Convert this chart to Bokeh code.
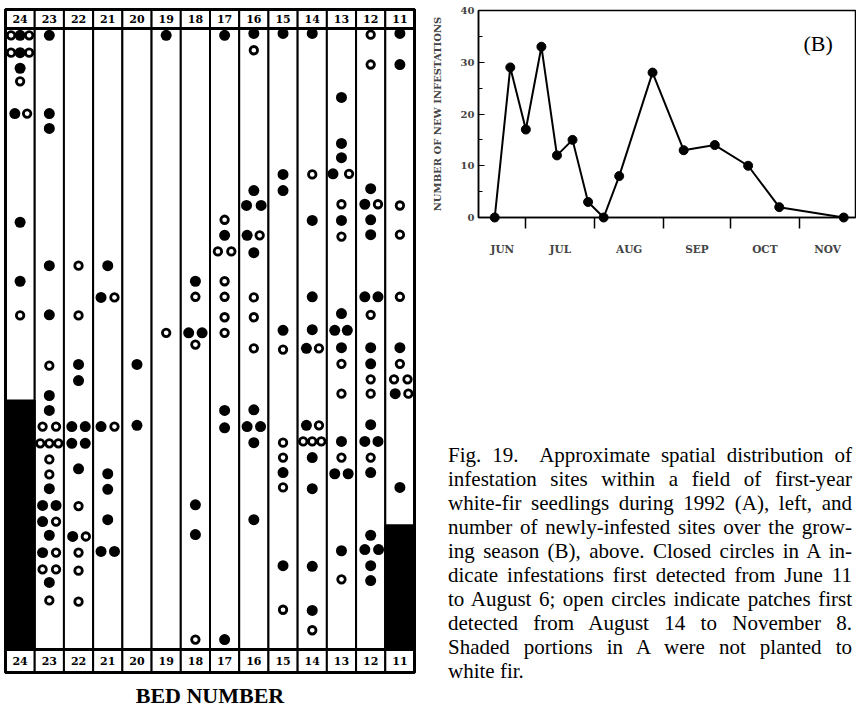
from bokeh.plotting import figure
from bokeh.models import Range1d, FixedTicker, Label, Div
from bokeh.layouts import row, column
from bokeh.embed import file_html
from bokeh.resources import INLINE
from bokeh.core.properties import value
import pandas as pd

# ---------------- Panel A data ----------------
beds = [24, 23, 22, 21, 20, 19, 18, 17, 16, 15, 14, 13, 12, 11]

# unplanted (shaded) part of a bed: starts at this position (% of bed length from top)
shaded_bed = [24, 11]
shaded_from = [59.9, 80.0]

# closed circles: infestations first detected June 11 - August 6
# position = % of bed length from the top; lane = sideways offset (fraction of bed width)
closed_bed = ([24] * 6 + [23] * 14 + [22] * 8 + [21] * 8 + [20] * 2 + [19] * 1 + [18] * 5
              + [17] * 5 + [16] * 11 + [15] * 6 + [14] * 10 + [13] * 13 + [12] * 17 + [11] * 5)
closed_pos = [
    1.1, 3.9, 6.4, 13.7, 31.2, 40.7,
    1.1, 13.7, 16.1, 38.2, 46.1, 59.1, 61.5, 74.1, 76.8, 76.8, 79.4, 81.6, 84.4, 89.2,
    54.1, 56.7, 64.1, 64.1, 66.8, 66.8, 70.9, 81.8,
    38.2, 43.3, 64.1, 71.7, 74.2, 79.1, 84.2, 84.2,
    54.1, 63.9,
    1.1,
    40.7, 49.0, 49.0, 76.7, 81.5,
    1.1, 33.3, 61.5, 64.3, 98.4,
    0.8, 26.1, 28.5, 28.5, 33.3, 36.1, 61.4, 64.1, 64.1, 66.7, 79.1,
    0.8, 23.5, 26.1, 48.6, 71.5, 86.5,
    0.8, 30.9, 43.2, 48.5, 51.5, 63.9, 69.1, 74.1, 86.6, 93.7,
    11.1, 18.5, 20.8, 23.4, 30.9, 45.9, 48.6, 48.6, 51.4, 66.5, 71.7, 71.7, 84.1,
    25.8, 28.3, 30.8, 33.2, 43.2, 43.2, 51.4, 54.0, 63.8, 66.5, 66.5, 71.5, 81.6, 83.9, 83.9, 86.5, 88.9,
    0.8, 5.8, 51.4, 58.8, 73.9,
]
closed_lane = [
    0, 0, 0, -0.18, 0, 0,
    0, 0, 0, 0, 0, 0, 0, 0, -0.23, 0.23, -0.23, 0, -0.23, 0,
    0, 0, -0.23, 0.23, -0.23, 0.23, 0, -0.2,
    0, -0.23, -0.23, 0, 0, 0, -0.23, 0.23,
    0, 0,
    0,
    0, -0.23, 0.23, 0, 0,
    0, 0, 0, 0, 0,
    0, 0, -0.25, 0.25, -0.23, 0, 0, -0.23, 0.23, 0, 0,
    0, 0, 0, 0, 0, 0,
    0, 0, 0, 0, -0.2, -0.2, 0, 0, 0, 0,
    0, 0, 0, -0.29, 0, 0, -0.23, 0.2, 0, 0, -0.23, 0.23, 0,
    0, -0.2, 0, 0, -0.2, 0.25, 0, 0, 0, -0.2, 0.25, 0, 0, -0.2, 0.27, 0, 0,
    0, 0, 0, -0.16, 0,
]

# open circles: patches first detected August 14 - November 8
open_bed = ([24] * 7 + [23] * 13 + [22] * 7 + [21] * 2 + [19] * 1 + [18] * 3 + [17] * 7
            + [16] * 5 + [15] * 5 + [14] * 7 + [13] * 7 + [12] * 7 + [11] * 7)
open_pos = [
    1.1, 1.1, 3.9, 3.9, 8.5, 13.7, 46.2,
    54.3, 64.1, 64.1, 66.8, 66.8, 66.8, 69.4, 71.8, 79.4, 84.4, 87.1, 87.1, 92.1,
    38.2, 46.2, 76.9, 81.8, 84.4, 87.3, 92.3,
    43.3, 64.1,
    49.0,
    43.2, 50.9, 98.4,
    30.8, 35.9, 35.9, 40.7, 43.2, 46.5, 49.0,
    3.5, 33.3, 43.3, 46.5, 51.5,
    51.7, 66.7, 69.1, 73.9, 93.6,
    23.5, 51.5, 63.9, 66.5, 66.5, 66.5, 96.9,
    23.4, 28.3, 33.5, 54.0, 58.8, 69.1, 88.7,
    1.0, 5.8, 28.3, 46.1, 56.5, 58.8, 69.1,
    28.5, 33.2, 43.2, 54.0, 56.5, 56.5, 58.8,
]
open_lane = [
    -0.31, 0.31, -0.31, 0.31, 0, 0.24, 0,
    0, -0.23, 0.23, -0.31, 0, 0.31, 0, 0, 0.23, 0.23, -0.23, 0.23, 0,
    0, 0, 0, 0.25, 0, 0, 0,
    0.23, 0.23,
    0,
    0, 0, 0,
    0, -0.23, 0.23, 0, 0, 0, 0,
    0, 0.2, 0, 0, 0,
    0, 0, 0, 0, 0,
    0, 0.23, 0.23, -0.31, 0, 0.31, 0,
    0.26, 0, 0, 0, 0, 0, 0,
    0, 0, 0.25, 0, 0, 0, 0,
    0, 0, 0, 0, -0.2, 0.26, 0.29,
]

# ---------------- Panel B data ----------------
survey_dates = ["Jun 17", "Jun 24", "Jul 1", "Jul 8", "Jul 15", "Jul 22", "Jul 29", "Aug 5",
                "Aug 12", "Aug 27", "Sep 10", "Sep 24", "Oct 9", "Oct 23", "Nov 21"]
new_infestations = [0, 29, 17, 33, 12, 15, 3, 0, 8, 28, 13, 14, 10, 2, 0]
month_names = ["JUN", "JUL", "AUG", "SEP", "OCT", "NOV"]
month_starts = ["Jul 1", "Aug 1", "Sep 1", "Oct 1", "Nov 1"]
y_ticks = [0, 10, 20, 30, 40]
y_minor = [5, 15, 25, 35]

caption_lines = [
    "Fig. 19.&nbsp; Approximate spatial distribution of",
    "infestation sites within a field of first-year",
    "white-fir seedlings during 1992 (A), left, and",
    "number of newly-infested sites over the grow-",
    "ing season (B), above. Closed circles in A in-",
    "dicate infestations first detected from June 11",
    "to August 6; open circles indicate patches first",
    "detected from August 14 to November 8.",
    "Shaded portions in A were not planted to",
    "white fir.",
]

# ---------------- Panel A ----------------
WA, H = 428, 708
ppx = 409 / 14.0     # pixels per bed
ppy = 6.21           # pixels per % of bed length
left_px, top_px = 5, 28
pA = figure(width=WA, height=H, output_backend="svg", toolbar_location=None,
            x_range=Range1d(-left_px / ppx, (WA - left_px) / ppx),
            y_range=Range1d((H - top_px) / ppy, -top_px / ppy),
            x_axis_location=None, y_axis_location=None, min_border=0,
            outline_line_color=None)
pA.grid.visible = False

idx = {b: i for i, b in enumerate(beds)}
lefts = [idx[b] for b in beds]
rights = [i + 1 for i in lefts]
top_row = 19 / ppy
bot_row = 23 / ppy

pA.quad(left=lefts, right=rights, top=-top_row, bottom=0, fill_color="white",
        line_color="black", line_width=2)
pA.quad(left=lefts, right=rights, top=0, bottom=100, fill_color="white",
        line_color="black", line_width=2)
pA.quad(left=lefts, right=rights, top=100, bottom=100 + bot_row, fill_color="white",
        line_color="black", line_width=2)
pA.quad(left=[idx[b] for b in shaded_bed], right=[idx[b] + 1 for b in shaded_bed],
        top=shaded_from, bottom=100, fill_color="black", line_color="black", line_width=2)
pA.multi_line(xs=[[0, 14], [0, 14]], ys=[[0, 0], [100, 100]], line_color="black", line_width=3)
pA.quad(left=0, right=14, top=-top_row, bottom=100 + bot_row, fill_color=None,
        line_color="black", line_width=3)

centers = [i + 0.5 for i in lefts]
for yy in (-top_row / 2, 100 + bot_row / 2):
    pA.text(x=centers, y=[yy] * len(beds), text=[str(b) for b in beds],
            text_font=value("DejaVu Serif"), text_font_style="bold", text_font_size="11px",
            text_align="center", text_baseline="middle", text_color="black")

cx = [idx[b] + 0.5 + l for b, l in zip(closed_bed, closed_lane)]
ox = [idx[b] + 0.5 + l for b, l in zip(open_bed, open_lane)]
pA.scatter(cx, closed_pos, size=11, fill_color="black", line_color=None)
pA.scatter(ox, open_pos, size=7.5, fill_color="white", line_color="black", line_width=2.8)

pA.text(x=[7], y=[(695 - top_px) / ppy], text=["BED NUMBER"],
        text_font=value("Liberation Serif"), text_font_style="bold", text_font_size="22px",
        text_align="center", text_baseline="middle", text_color="black")

# ---------------- Panel B ----------------
june1 = pd.Timestamp("1992-06-01")
def day(s):
    return (pd.to_datetime("1992 " + s, format="%Y %b %d") - june1).days

days = [day(d) for d in survey_dates]
x0, x1 = 8.7, 178.3
HB = 270

pB = figure(width=856 - WA, height=HB, output_backend="svg", toolbar_location=None,
            x_range=Range1d(x0, x1), y_range=Range1d(0, 40),
            min_border_left=45, min_border_right=1, min_border_top=10, min_border_bottom=53,
            outline_line_color="black", outline_line_width=1.5)
pB.grid.visible = False

bounds = [day(d) for d in month_starts]
edges = [x0] + bounds + [x1]
mids = [round((a + b) / 2, 1) for a, b in zip(edges[:-1], edges[1:])]
xa = pB.xaxis[0]
xa.ticker = FixedTicker(ticks=mids, minor_ticks=bounds)
xa.major_label_overrides = {m: n for m, n in zip(mids, month_names)}
xa.major_tick_line_color = None
xa.major_tick_out = 0
xa.major_tick_in = 0
xa.minor_tick_out = 11
xa.minor_tick_in = 0
xa.minor_tick_line_width = 1.5
xa.major_label_standoff = 14
xa.axis_line_width = 1.5
xa.major_label_text_font = "DejaVu Serif"
xa.major_label_text_font_style = "bold"
xa.major_label_text_font_size = "10.5px"

ya = pB.yaxis[0]
ya.ticker = FixedTicker(ticks=y_ticks, minor_ticks=y_minor)
ya.major_tick_in = 6
ya.major_tick_out = 0
ya.minor_tick_in = 4
ya.minor_tick_out = 0
ya.major_label_standoff = 4
ya.axis_line_width = 1.5
ya.major_label_text_font = "DejaVu Serif"
ya.major_label_text_font_style = "bold"
ya.major_label_text_font_size = "10px"
ya.axis_label = "NUMBER OF NEW INFESTATIONS"
ya.axis_label_text_font = "DejaVu Serif"
ya.axis_label_text_font_style = "bold"
ya.axis_label_text_font_size = "10px"
ya.axis_label_standoff = 15

ln = pB.line(days, new_infestations, line_color="black", line_width=2)
pt = pB.scatter(days, new_infestations, size=9, fill_color="black", line_color="black")
ln.level = "overlay"
pt.level = "overlay"

pB.add_layout(Label(x=161.5, y=33.7, text="(B)", text_font="Liberation Serif",
                    text_font_size="22px", text_align="center", text_baseline="middle",
                    text_color="black"))

# ---------------- Caption ----------------
inner = "".join(
    '<div style="text-align:justify;text-align-last:justify;">%s</div>' % t
    for t in caption_lines[:-1]
) + '<div style="text-align:left;">%s</div>' % caption_lines[-1]
html = ('<div style="box-sizing:content-box;padding:173px 0 0 20px;width:404px;'
        'font-family:\'Liberation Serif\';font-size:21px;line-height:24px;color:#000;">'
        + inner + '</div>')
cap = Div(text=html, width=856 - WA, height=H - HB,
          styles={"overflow": "hidden", "margin": "0", "padding": "0"})

layout = row(pA, column(pB, cap, spacing=0), spacing=0)
open("out.html", "w").write(file_html(layout, INLINE))
